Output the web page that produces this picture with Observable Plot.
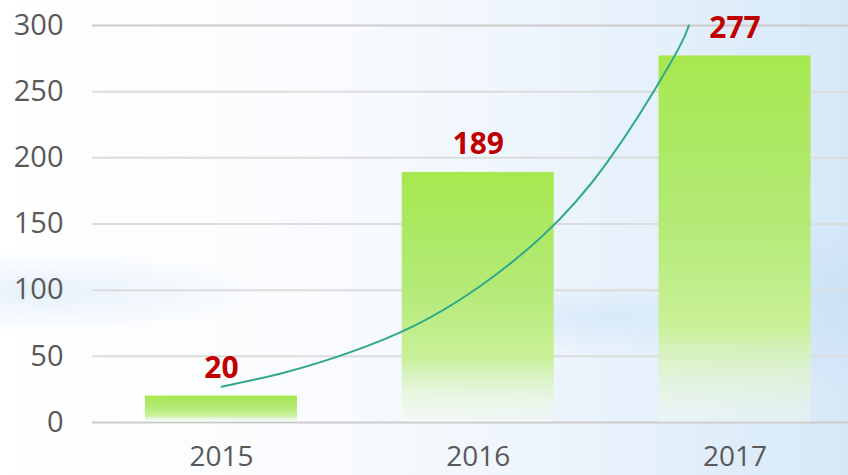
<!DOCTYPE html>
<html><head><meta charset="utf-8">
<script src="https://cdn.jsdelivr.net/npm/d3@7"></script>
<script src="https://cdn.jsdelivr.net/npm/@observablehq/plot@0.6"></script>
<style>
html,body{margin:0;padding:0;width:848px;height:475px;overflow:hidden;}
body{background:
 radial-gradient(ellipse 220px 40px at 40px 292px, rgba(214,232,249,0.6), rgba(214,232,249,0) 100%),
 radial-gradient(ellipse 160px 35px at 610px 318px, rgba(205,227,247,0.6), rgba(205,227,247,0) 100%),
 radial-gradient(ellipse 120px 90px at 848px 300px, rgba(195,221,244,0.6), rgba(195,221,244,0) 100%),
 linear-gradient(90deg, #ffffff 0%, #f9fbfe 40%, #eaf3fc 70%, #d6e8f8 100%);}
</style></head><body><div id="chart"></div>
<script>
const years = [2015, 2016, 2017];
const values = [20, 189, 277];
const yTicks = [0, 50, 100, 150, 200, 250, 300];
const trendYears = [2015, 2015.25, 2015.5, 2015.75, 2016, 2016.25, 2016.5, 2016.75, 2016.82];
const trendValues = [27, 38, 53, 73, 102, 141, 196, 272, 300];

const bars = years.map((year, i) => ({year, value: values[i]}));
const trend = trendYears.map((year, i) => ({year, value: trendValues[i]}));
const half = 0.296;

const defs = () => {
  const d = d3.create("svg:defs");
  const g = d.append("linearGradient").attr("id", "barGrad")
    .attr("x1", 0).attr("y1", 0).attr("x2", 0).attr("y2", 1);
  [[0, "#a7e84f", 1], [0.45, "#b3ea76", 1], [0.74, "#c9f198", 1],
   [0.8, "#d4f2b6", 0.95], [1, "#f2f9f0", 0.35]].forEach(([o, c, a]) =>
    g.append("stop").attr("offset", o).attr("stop-color", c).attr("stop-opacity", a));
  return d.node();
};

const chart = Plot.plot({
  width: 848, height: 475,
  marginTop: 25, marginBottom: 53, marginLeft: 92, marginRight: 0,
  style: {background: "transparent", fontFamily: "'Open Sans', sans-serif", color: "#595959", overflow: "visible"},
  x: {domain: [2015, 2017], range: [221, 734.5]},
  y: {domain: [0, 300]},
  marks: [
    defs,
    Plot.ruleY(yTicks.filter(t => t !== 0 && t !== 300), {stroke: "#dcdcdc", strokeWidth: 2}),
    Plot.ruleY(yTicks.filter(t => t === 0 || t === 300), {stroke: "#cbcbcb", strokeWidth: 2}),
    Plot.rectY(bars, {x1: d => d.year - half, x2: d => d.year + half, y: "value", fill: "url(#barGrad)"}),
    Plot.line(trend, {x: "year", y: "value", stroke: "#2fa98a", strokeWidth: 2, curve: "natural"}),
    Plot.text(bars, {x: "year", y: "value", text: d => String(d.value), dy: -18, lineAnchor: "bottom",
      fill: "#c00000", fontSize: 30, fontWeight: "bold"}),
    Plot.axisY(yTicks, {tickSize: 0, tickPadding: 29, fontSize: 29, label: null}),
    Plot.axisX(years, {tickSize: 0, tickPadding: 24, fontSize: 28, label: null, tickFormat: d => String(d)})
  ]
});
document.getElementById("chart").appendChild(chart);
</script></body></html>
